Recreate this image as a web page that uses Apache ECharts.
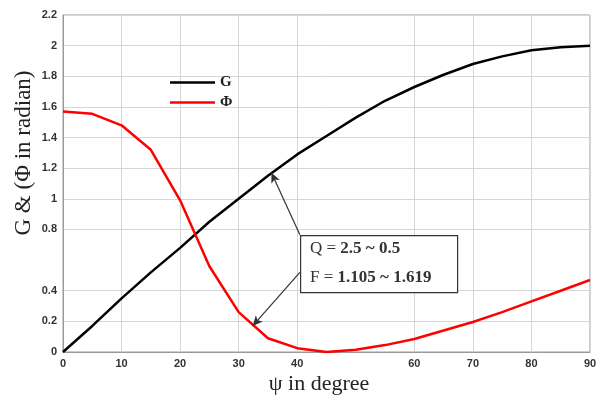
<!DOCTYPE html>
<html>
<head>
<meta charset="utf-8">
<script src="https://cdn.jsdelivr.net/npm/echarts@6/dist/echarts.min.js"></script>
<style>
  html, body { margin: 0; padding: 0; background: #fff; }
  #chart { width: 605px; height: 403px; }
</style>
</head>
<body>
<div id="chart"></div>
<script>
// ψ in degree
const psi = [0, 5, 10, 15, 20, 25, 30, 35, 40, 45, 50, 55, 60, 65, 70, 75, 80, 85, 90]
// G curve
const gValues = [0, 0.17, 0.35, 0.52, 0.68, 0.85, 1.0, 1.15, 1.29, 1.41, 1.53, 1.64, 1.73, 1.81, 1.88, 1.93, 1.97, 1.99, 2.0]
// Φ curve (radian)
const phiValues = [1.57, 1.555, 1.48, 1.32, 0.99, 0.56, 0.26, 0.09, 0.025, 0.0, 0.015, 0.045, 0.085, 0.14, 0.196, 0.26, 0.33, 0.4, 0.47]
// tick labels shown in the picture (0.6 and 50 are missing there)
const xTicks = [0, 10, 20, 30, 40, 60, 70, 80, 90]
const yTicks = [0, 0.2, 0.4, 0.8, 1, 1.2, 1.4, 1.6, 1.8, 2, 2.2]

const chart = echarts.init(document.getElementById('chart'))

const labelStyle = {
  color: '#333',
  fontFamily: 'Liberation Sans, Arial, sans-serif',
  fontWeight: 'bold',
  fontSize: 11
}
const serif = 'Liberation Serif, Times New Roman, serif'

const option = {
  animation: false,
  backgroundColor: '#fff',
  grid: {
    left: 63,
    right: 15,
    top: 15,
    bottom: 51,
    outerBoundsMode: 'none',
    show: true,
    borderColor: '#9a9a9a',
    borderWidth: 1
  },
  legend: {
    orient: 'vertical',
    left: 165,
    top: 70,
    icon: 'rect',
    itemWidth: 45,
    itemHeight: 2.5,
    itemGap: 5,
    data: ['G', 'Φ'],
    textStyle: {
      fontFamily: serif,
      fontWeight: 'bold',
      fontSize: 15,
      color: '#222'
    }
  },
  xAxis: {
    type: 'value',
    min: 0,
    max: 90,
    axisLine: { show: true, lineStyle: { color: '#9a9a9a' } },
    axisTick: { show: false, customValues: xTicks },
    axisLabel: Object.assign({ customValues: xTicks, margin: 6 }, labelStyle),
    splitLine: { show: true, lineStyle: { color: '#d6d6d6', width: 1 } }
  },
  yAxis: {
    type: 'value',
    min: 0,
    max: 2.2,
    axisLine: { show: true, lineStyle: { color: '#9a9a9a' } },
    axisTick: { show: false, customValues: yTicks },
    axisLabel: Object.assign({ customValues: yTicks, margin: 6 }, labelStyle),
    splitLine: { show: true, lineStyle: { color: '#d6d6d6', width: 1 } }
  },
  series: [
    {
      name: 'G',
      type: 'line',
      symbol: 'none',
      smooth: false,
      data: psi.map((p, i) => [p, gValues[i]]),
      lineStyle: { color: '#000', width: 2.5 },
      itemStyle: { color: '#000' },
      markLine: {
        silent: true,
        symbol: ['none', 'arrow'],
        symbolSize: [7, 10],
        label: { show: false },
        lineStyle: { color: '#333', width: 1.2, type: 'solid' },
        data: [
          [{ coord: [40.45, 0.765] }, { coord: [35.6, 1.17] }],
          [{ coord: [40.45, 0.52] }, { coord: [32.4, 0.17] }]
        ]
      }
    },
    {
      name: 'Φ',
      type: 'line',
      symbol: 'none',
      smooth: false,
      data: psi.map((p, i) => [p, phiValues[i]]),
      lineStyle: { color: '#ff0000', width: 2.5 },
      itemStyle: { color: '#ff0000' }
    }
  ],
  graphic: [
    // axis titles
    {
      type: 'text',
      x: 319,
      y: 384,
      style: {
        text: 'ψ in degree',
        font: '22px ' + serif,
        fill: '#222',
        textAlign: 'center',
        textVerticalAlign: 'middle'
      }
    },
    {
      type: 'text',
      x: 24,
      y: 153,
      rotation: Math.PI / 2,
      style: {
        text: 'G & (Φ in radian)',
        font: '23px ' + serif,
        fill: '#222',
        textAlign: 'center',
        textVerticalAlign: 'middle'
      }
    },
    // annotation box
    {
      type: 'rect',
      left: 300,
      top: 235,
      shape: { width: 157, height: 57 },
      style: { fill: '#fff', stroke: '#333', lineWidth: 1.2 },
      z: 100
    },
    {
      type: 'text',
      left: 310,
      top: 240,
      z: 101,
      style: {
        text: '{r|Q = }{b|2.5 ~ 0.5}\n{r|F = }{b|1.105 ~ 1.619}',
        rich: {
          r: { fontFamily: serif, fontSize: 17, fill: '#333', lineHeight: 29 },
          b: { fontFamily: serif, fontSize: 17, fontWeight: 'bold', fill: '#333', lineHeight: 29 }
        }
      }
    }
  ]
}

chart.setOption(option)
</script>
</body>
</html>
